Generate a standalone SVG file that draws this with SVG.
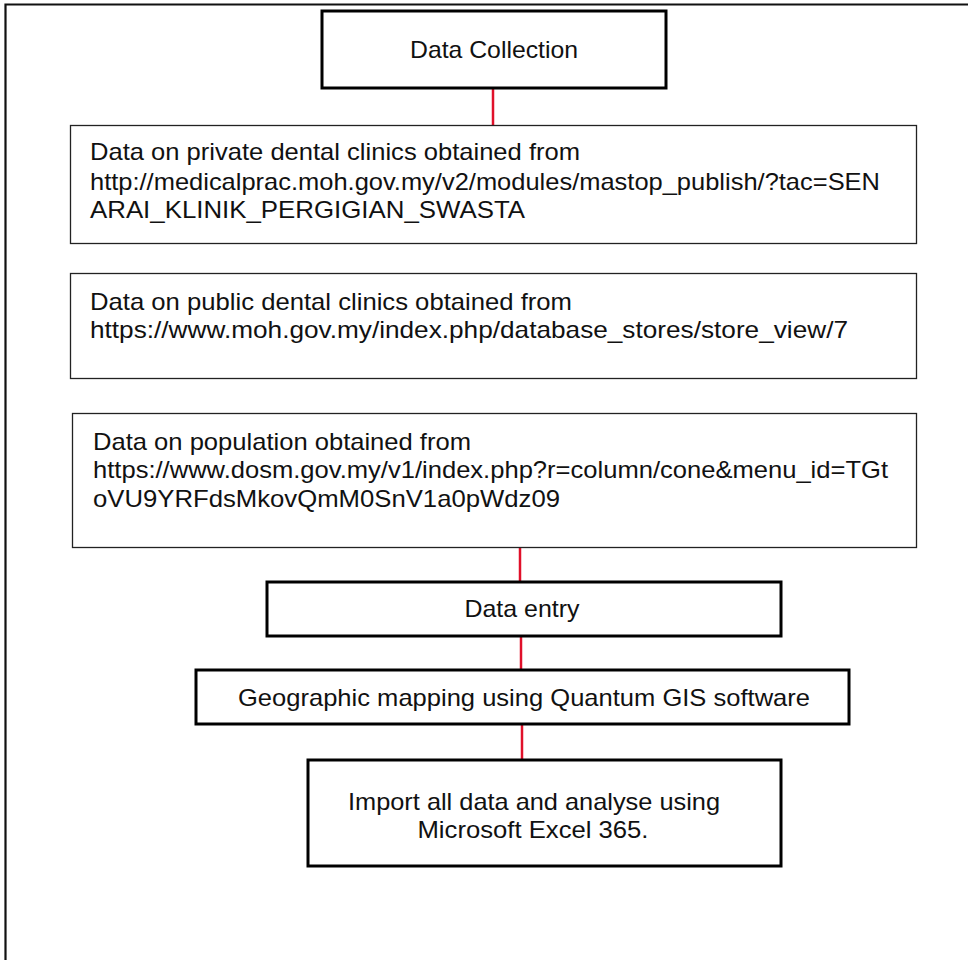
<svg xmlns="http://www.w3.org/2000/svg" width="968" height="960" viewBox="0 0 968 960">
<style>
.thin{fill:#fff;stroke:#222;stroke-width:1.3}
.thick{fill:#fff;stroke:#000;stroke-width:3}
.conn{stroke:#e0102a;stroke-width:2.5}
text{font-family:"Liberation Sans",Arial,sans-serif;font-size:24px;fill:#111}
.c{text-anchor:middle}
</style>
<rect width="968" height="960" fill="#fff"/>
<path d="M5.5 960 V4.5 H968" fill="none" stroke="#111" stroke-width="2.2"/>
<g id="connectors">
<line class="conn" x1="493" y1="89" x2="493" y2="125"/>
<line class="conn" x1="520" y1="548" x2="520" y2="581"/>
<line class="conn" x1="521" y1="636" x2="521" y2="670"/>
<line class="conn" x1="522" y1="724" x2="522" y2="760"/>
</g>
<g id="data-collection">
<rect class="thick" x="322" y="11" width="344" height="77"/>
<text class="c" x="494" y="58" textLength="168" lengthAdjust="spacingAndGlyphs">Data Collection</text>
</g>
<g id="private-clinics">
<rect class="thin" x="70.5" y="125.5" width="846" height="118"/>
<text x="90" y="160" textLength="490" lengthAdjust="spacingAndGlyphs">Data on private dental clinics obtained  from</text>
<text x="90" y="190" textLength="790" lengthAdjust="spacingAndGlyphs">http://medicalprac.moh.gov.my/v2/modules/mastop_publish/?tac=SEN</text>
<text x="90" y="218" textLength="435" lengthAdjust="spacingAndGlyphs">ARAI_KLINIK_PERGIGIAN_SWASTA</text>
</g>
<g id="public-clinics">
<rect class="thin" x="70.5" y="273.5" width="846" height="105"/>
<text x="90" y="310" textLength="482" lengthAdjust="spacingAndGlyphs">Data on public dental clinics obtained  from</text>
<text x="90" y="338" textLength="758" lengthAdjust="spacingAndGlyphs">https://www.moh.gov.my/index.php/database_stores/store_view/7</text>
</g>
<g id="population">
<rect class="thin" x="72.5" y="413.5" width="844" height="134"/>
<text x="93" y="450" textLength="378" lengthAdjust="spacingAndGlyphs">Data on population  obtained  from</text>
<text x="93" y="478" textLength="795" lengthAdjust="spacingAndGlyphs">https://www.dosm.gov.my/v1/index.php?r=column/cone&amp;menu_id=TGt</text>
<text x="93" y="507" textLength="467" lengthAdjust="spacingAndGlyphs">oVU9YRFdsMkovQmM0SnV1a0pWdz09</text>
</g>
<g id="data-entry">
<rect class="thick" x="267" y="582" width="514" height="54"/>
<text class="c" x="522" y="617" textLength="115" lengthAdjust="spacingAndGlyphs">Data entry</text>
</g>
<g id="geographic-mapping">
<rect class="thick" x="196" y="670" width="653" height="54"/>
<text class="c" x="524" y="706" textLength="572" lengthAdjust="spacingAndGlyphs">Geographic mapping using Quantum GIS software</text>
</g>
<g id="import-analyse">
<rect class="thick" x="308" y="760" width="473" height="106"/>
<text class="c" x="534" y="810" textLength="372" lengthAdjust="spacingAndGlyphs">Import all data and analyse using</text>
<text class="c" x="533" y="838" textLength="231" lengthAdjust="spacingAndGlyphs">Microsoft Excel 365.</text>
</g>
</svg>
